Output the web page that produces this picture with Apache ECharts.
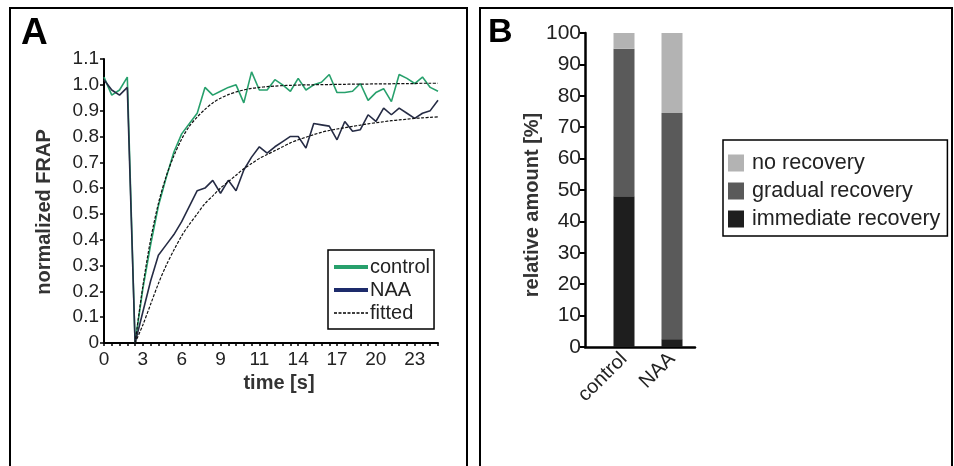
<!DOCTYPE html>
<html>
<head>
<meta charset="utf-8">
<script src="https://cdn.jsdelivr.net/npm/echarts@6/dist/echarts.min.js"></script>
<style>
html,body{margin:0;padding:0;background:#fff;}
#c{width:954px;height:466px;}
</style>
</head>
<body>
<div id="c"></div>
<script>
// ---- Panel A data ----
const times = [0,0.57,1.15,1.72,2.30,2.87,3.44,4.02,4.59,5.17,5.74,6.31,6.89,7.46,8.04,8.61,9.18,9.76,10.33,10.91,11.48,12.05,12.63,13.20,13.78,14.35,14.92,15.50,16.07,16.65,17.22,17.79,18.37,18.94,19.52,20.09,20.66,21.24,21.81,22.39,22.96,23.53,24.11,24.68];
const controlFRAP = [1.03,0.96,0.98,1.03,0, 0.21,0.38,0.53,0.64,0.74, 0.81,0.85,0.89,0.99,0.96, 0.975,0.99,1.0,0.93,1.05, 0.98,0.98,1.02,1.0,0.975, 1.025,0.98,1.0,1.01,1.04, 0.97,0.97,0.975,1.005,0.94, 0.97,0.985,0.935,1.04,1.025, 1.005,1.03,0.99,0.975];
const naaFRAP = [1.02,0.98,0.96,0.99,0, 0.12,0.24,0.34,0.38,0.42, 0.47,0.53,0.59,0.60,0.63, 0.58,0.63,0.59,0.67,0.72, 0.76,0.735,0.76,0.78,0.80, 0.80,0.755,0.85,0.845,0.84, 0.787,0.858,0.82,0.826,0.884, 0.858,0.91,0.884,0.91,0.89, 0.87,0.89,0.90,0.94];
const controlFit = [null,null,null,null, 0,0.22,0.40,0.54,0.645,0.725, 0.79,0.84,0.875,0.905,0.93, 0.948,0.962,0.972,0.98,0.986, 0.99,0.993,0.995,0.997,0.998, 0.999,1.0,1.0,1.001,1.001, 1.002,1.002,1.003,1.003,1.003, 1.004,1.004,1.004,1.005,1.005, 1.005,1.006,1.006,1.006];
const naaFit = [null,null,null,null, 0,0.07,0.15,0.23,0.30,0.36, 0.415,0.46,0.50,0.54,0.57, 0.60,0.625,0.65,0.675,0.695, 0.715,0.73,0.745,0.76,0.775, 0.787,0.797,0.807,0.816,0.823, 0.829,0.834,0.839,0.844,0.849, 0.853,0.857,0.861,0.864,0.867, 0.87,0.872,0.874,0.876];

// ---- Panel B data ----
const groups = ['control','NAA'];
const immediateRecovery = [48, 2.5];
const gradualRecovery = [47, 72];
const noRecovery = [5, 25.5];

const FONT = 'Liberation Sans, Arial, sans-serif';
const chart = echarts.init(document.getElementById('c'), null, {renderer:'canvas'});

const option = {
  backgroundColor: '#fff',
  animation: false,
  textStyle: {fontFamily: FONT},
  graphic: [
    {type:'rect', shape:{x:10, y:8, width:457, height:470}, style:{fill:'none', stroke:'#000', lineWidth:2}},
    {type:'rect', shape:{x:480, y:8, width:472, height:470}, style:{fill:'none', stroke:'#000', lineWidth:2}},
    {type:'text', left:21, top:15, style:{text:'A', font:'bold 37px ' + FONT, fill:'#000'}},
    {type:'text', left:488, top:16, style:{text:'B', font:'bold 34px ' + FONT, fill:'#000'}}
  ],
  legend: [
    {
      orient:'vertical', left:328, top:250, padding:[7,4,6,4], itemGap:3,
      itemWidth:34, itemHeight:14,
      borderColor:'#000', borderWidth:1.5, borderRadius:0,
      itemStyle:{opacity:0},
      textStyle:{fontSize:20, color:'#222', fontFamily:FONT, padding:[0,0,0,-3]},
      data:[
        {name:'control', lineStyle:{width:4}},
        {name:'NAA', lineStyle:{width:4, color:'#1d2b6b'}},
        {name:'fitted', lineStyle:{width:1.5, color:'#000', type:[3,1.5]}}
      ]
    },
    {
      orient:'vertical', left:723, top:140, padding:[12,7,6,5], itemGap:6,
      itemWidth:16, itemHeight:17, icon:'rect',
      borderColor:'#000', borderWidth:1.5, borderRadius:0,
      textStyle:{fontSize:21.6, color:'#222', fontFamily:FONT, padding:[0,0,0,3]},
      data:['no recovery','gradual recovery','immediate recovery']
    }
  ],
  grid: [
    {left:104, top:59, width:334, height:284},
    {left:600, top:33, width:96, height:314},
    {left:585, top:33, width:110, height:314}
  ],
  xAxis: [
    {
      gridIndex:0, type:'category', data:times, boundaryGap:false,
      name:'time [s]', nameLocation:'middle', nameGap:30,
      nameTextStyle:{fontSize:20, fontWeight:'bold', color:'#333', fontFamily:FONT, padding:[0,0,0,16]},
      axisLine:{lineStyle:{color:'#000', width:2}},
      axisTick:{interval:0, length:3, lineStyle:{color:'#000', width:1.5}},
      axisLabel:{interval:4, fontSize:19, color:'#222', margin:7, formatter:(v)=>String(Math.round(+v))},
      splitLine:{show:false}
    },
    {
      gridIndex:1, type:'category', data:groups, boundaryGap:true,
      axisLine:{show:false},
      axisTick:{alignWithLabel:true, length:6, lineStyle:{color:'#000', width:2}},
      axisLabel:{interval:0, rotate:45, fontSize:20, color:'#222', margin:9},
      splitLine:{show:false}
    },
    {
      gridIndex:2, type:'value', min:0, max:1,
      axisLine:{show:true, onZero:false, lineStyle:{color:'#000', width:2.5}},
      axisTick:{show:false}, axisLabel:{show:false}, splitLine:{show:false}
    }
  ],
  yAxis: [
    {
      gridIndex:0, type:'value', min:0, max:1.1, interval:0.1,
      name:'normalized FRAP', nameLocation:'middle', nameGap:50,
      nameTextStyle:{fontSize:20, fontWeight:'bold', color:'#333', fontFamily:FONT, padding:[0,22,0,0]},
      axisLine:{show:true, lineStyle:{color:'#000', width:2}},
      axisTick:{show:true, length:4, lineStyle:{color:'#000', width:1.5}},
      axisLabel:{fontSize:19, color:'#222', margin:5, formatter:(v)=> v===0 ? '0' : v.toFixed(1)},
      splitLine:{show:false}
    },
    {
      gridIndex:1, type:'value', min:0, max:100, interval:10, show:false
    },
    {
      gridIndex:2, type:'value', min:0, max:100, interval:10,
      name:'relative amount [%]', nameLocation:'middle', nameGap:41,
      nameTextStyle:{fontSize:20, fontWeight:'bold', color:'#333', fontFamily:FONT, padding:[0,30,0,0]},
      axisLine:{show:true, lineStyle:{color:'#000', width:2.5}},
      axisTick:{show:true, length:5, lineStyle:{color:'#000', width:2}},
      axisLabel:{fontSize:21, color:'#222', margin:4},
      splitLine:{show:false}
    }
  ],
  series: [
    {name:'control', type:'line', xAxisIndex:0, yAxisIndex:0, data:controlFRAP, symbol:'none', color:'#27a06c', lineStyle:{width:1.6, color:'#27a06c'}},
    {name:'NAA', type:'line', xAxisIndex:0, yAxisIndex:0, data:naaFRAP, symbol:'none', color:'#262c45', lineStyle:{width:1.6, color:'#262c45'}},
    {name:'fitted', type:'line', xAxisIndex:0, yAxisIndex:0, data:controlFit, symbol:'none', smooth:0.3, color:'#111', lineStyle:{width:1.2, color:'#111', type:[3,1.5]}},
    {name:'fitted', type:'line', xAxisIndex:0, yAxisIndex:0, data:naaFit, symbol:'none', smooth:0.3, color:'#111', lineStyle:{width:1.2, color:'#111', type:[3,1.5]}},
    {name:'immediate recovery', type:'bar', stack:'r', xAxisIndex:1, yAxisIndex:1, data:immediateRecovery, barWidth:21, itemStyle:{color:'#1e1e1e'}},
    {name:'gradual recovery', type:'bar', stack:'r', xAxisIndex:1, yAxisIndex:1, data:gradualRecovery, barWidth:21, itemStyle:{color:'#5a5a5a'}},
    {name:'no recovery', type:'bar', stack:'r', xAxisIndex:1, yAxisIndex:1, data:noRecovery, barWidth:21, itemStyle:{color:'#b3b3b3'}}
  ]
};
chart.setOption(option);
</script>
</body>
</html>
